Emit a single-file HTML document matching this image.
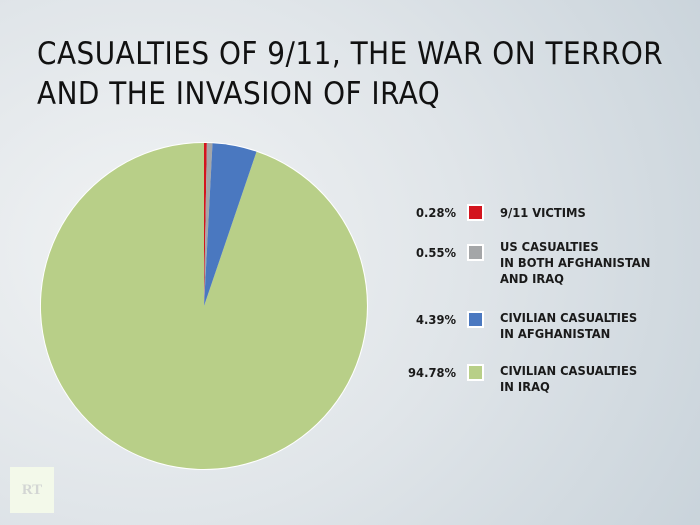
<!DOCTYPE html>
<html><head><meta charset="utf-8"><style>
body{margin:0;width:700px;height:525px;overflow:hidden;font-family:"Liberation Sans","DejaVu Sans",sans-serif;
background:radial-gradient(ellipse 700px 600px at 150px 250px,#f1f3f4 0%,#e0e5e9 45%,#c5d0d8 100%);position:relative}
h1{position:absolute;left:37px;top:34px;margin:0;font-weight:normal;font-size:31px;line-height:40px;color:#111;letter-spacing:0.5px;font-family:"DejaVu Sans Condensed","Liberation Sans Narrow",sans-serif}
.l{position:absolute;font-size:12.8px;font-weight:bold;color:#1a1a1a;line-height:16px;font-family:"DejaVu Sans Condensed","Liberation Sans",sans-serif}
.p{position:absolute;width:60px;text-align:right;font-size:12.8px;font-weight:bold;color:#1a1a1a;font-family:"DejaVu Sans Condensed","Liberation Sans",sans-serif}
.s{position:absolute;width:17px;height:17px;border:2px solid #fff;box-sizing:border-box}
</style></head><body>
<h1>CASUALTIES OF 9/11, THE WAR ON TERROR<br>AND THE INVASION OF IRAQ</h1>
<svg width="700" height="525" style="position:absolute;left:0;top:0">
<circle cx="204" cy="306" r="164" fill="#fff"/>
<path d="M204,306 L256.5,151.7 A163,163 0 1 1 204,143 Z" fill="#b8cf88"/>
<path d="M204,306 L204,143 A163,163 0 0 1 206.87,143.03 Z" fill="#d3141e"/>
<path d="M204,306 L206.87,143.03 A163,163 0 0 1 212.5,143.22 Z" fill="#a4a6a8"/>
<path d="M204,306 L212.5,143.22 A163,163 0 0 1 256.5,151.7 Z" fill="#4a78c0"/>
</svg>
<div class="p" style="left:396px;top:206px">0.28%</div><div class="s" style="left:467px;top:204px;background:#d3141e"></div><div class="l" style="left:500px;top:206px">9/11 VICTIMS</div>
<div class="p" style="left:396px;top:246px">0.55%</div><div class="s" style="left:467px;top:244px;background:#a4a6a8"></div><div class="l" style="left:500px;top:240px">US CASUALTIES<br>IN BOTH AFGHANISTAN<br>AND IRAQ</div>
<div class="p" style="left:396px;top:313px">4.39%</div><div class="s" style="left:467px;top:311px;background:#4a78c0"></div><div class="l" style="left:500px;top:311px">CIVILIAN CASUALTIES<br>IN AFGHANISTAN</div>
<div class="p" style="left:396px;top:366px">94.78%</div><div class="s" style="left:467px;top:364px;background:#b8cf88"></div><div class="l" style="left:500px;top:364px">CIVILIAN CASUALTIES<br>IN IRAQ</div>
<div style="position:absolute;left:10px;top:467px;width:44px;height:46px;background:#f3f9ea;color:#d3d6d4;font:bold 15px 'Liberation Serif',serif;text-align:center;line-height:46px">RT</div>
</body></html>
